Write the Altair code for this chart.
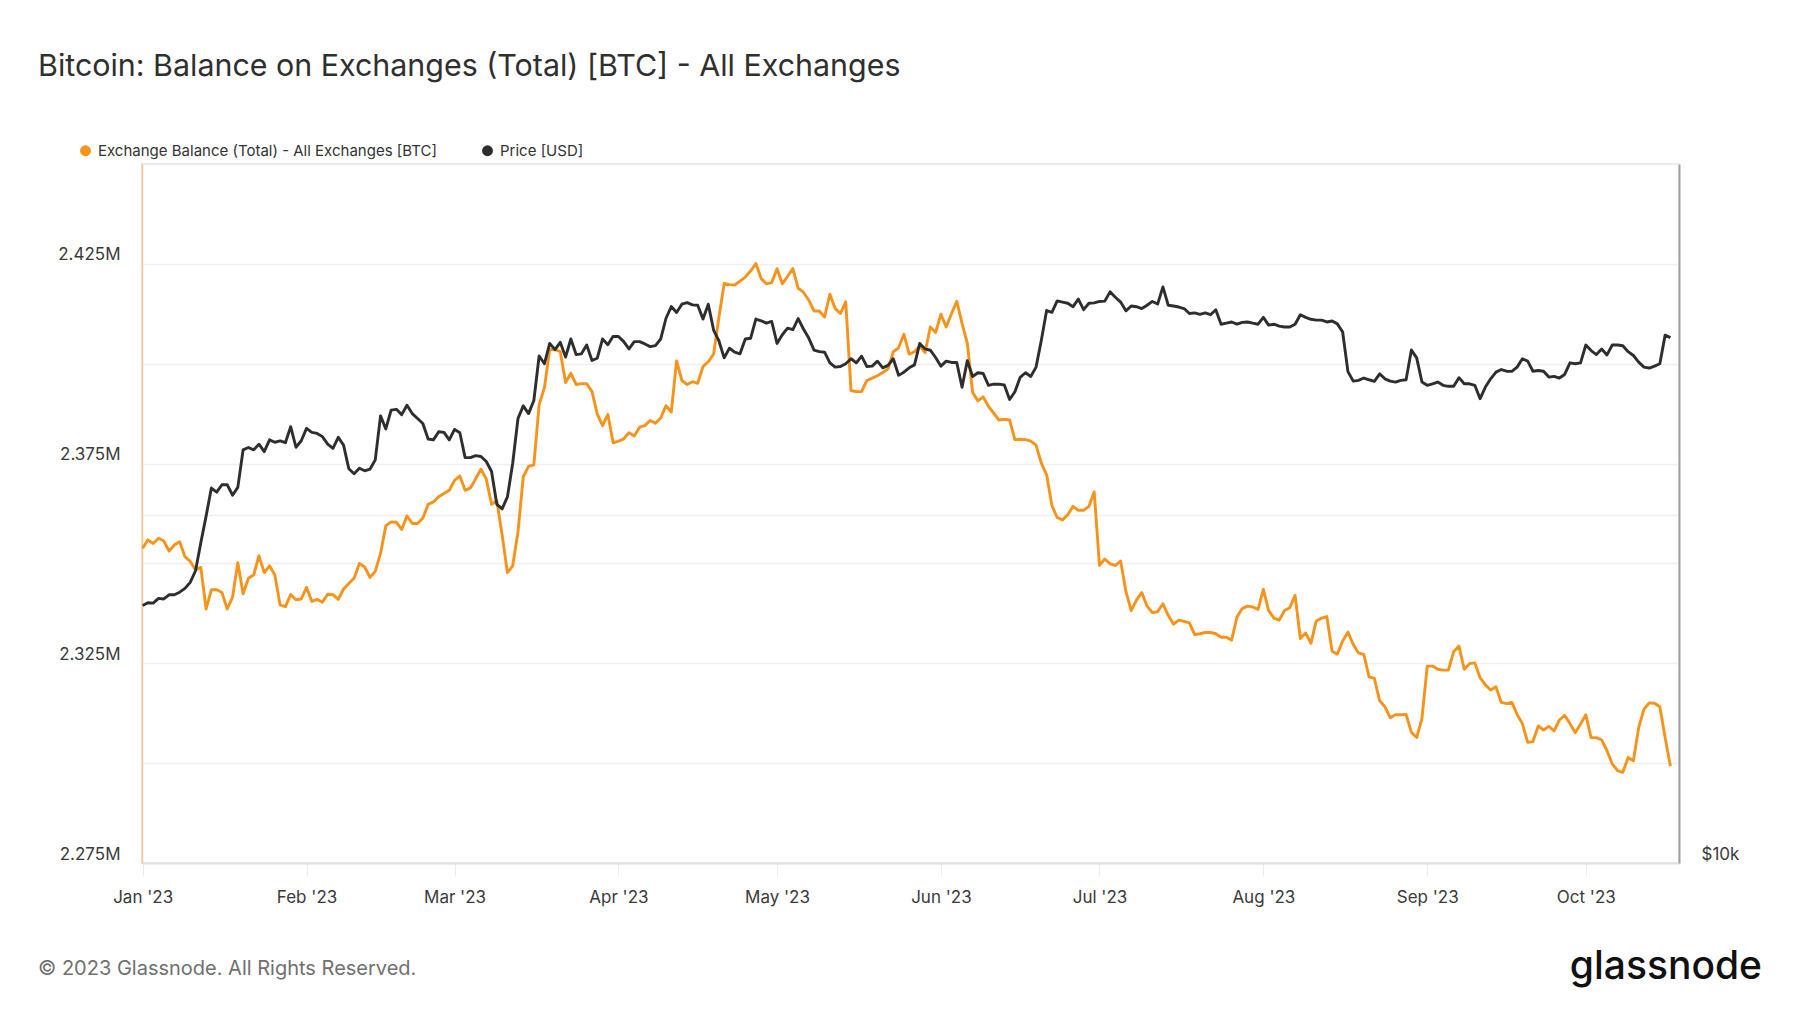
import altair as alt
import pandas as pd

# ---------------- data ----------------
title_text = "Bitcoin: Balance on Exchanges (Total) [BTC] - All Exchanges"
footer_text = "© 2023 Glassnode. All Rights Reserved."
logo_text = "glassnode"
series_names = ["Exchange Balance (Total) - All Exchanges [BTC]", "Price [USD]"]
series_colors = ["#f7931a", "#2e2e2e"]

start_date = "2023-01-01"  # one value per day from here

# Exchange balance, thousand BTC
balance_kbtc = [
    2353.8, 2355.9, 2355.0, 2356.3, 2355.6, 2353.1, 2354.6, 2355.4, 2351.7, 2350.5,
    2348.4, 2349.0, 2338.6, 2343.4, 2343.4, 2342.7, 2338.6, 2341.5, 2350.2, 2342.4,
    2346.3, 2347.1, 2351.9, 2347.7, 2349.4, 2347.1, 2339.6, 2339.2, 2342.2, 2340.9,
    2341.1, 2344.0, 2340.5, 2341.0, 2340.3, 2342.3, 2342.2, 2341.0, 2343.6, 2345.0,
    2346.3, 2350.0, 2349.1, 2346.5, 2348.0, 2352.5, 2359.4, 2360.4, 2360.3, 2358.5,
    2361.9, 2360.0, 2360.0, 2361.3, 2364.8, 2365.4, 2366.7, 2367.5, 2368.3, 2370.8,
    2371.9, 2368.3, 2368.9, 2371.2, 2373.6, 2371.1, 2364.8, 2365.7, 2357.1, 2347.7,
    2349.4, 2357.9, 2371.7, 2374.3, 2374.7, 2389.7, 2394.0, 2403.6, 2403.5, 2403.0,
    2395.3, 2397.6, 2394.8, 2395.0, 2395.0, 2393.0, 2387.4, 2384.5, 2387.3, 2380.2,
    2380.6, 2381.2, 2382.7, 2381.9, 2384.1, 2384.5, 2385.8, 2385.1, 2386.4, 2389.5,
    2387.9, 2400.7, 2395.8, 2394.8, 2395.5, 2395.1, 2399.3, 2400.5, 2402.4, 2411.5,
    2420.1, 2419.8, 2419.7, 2420.7, 2421.7, 2423.2, 2425.1, 2421.3, 2420.0, 2420.3,
    2423.8, 2420.0, 2421.9, 2423.8, 2418.9, 2417.9, 2415.9, 2413.2, 2413.2, 2411.7,
    2417.4, 2413.8, 2412.6, 2415.5, 2393.3, 2393.0, 2393.0, 2395.8, 2396.4, 2397.0,
    2397.8, 2398.7, 2403.0, 2404.0, 2407.4, 2402.4, 2403.0, 2404.5, 2402.8, 2409.2,
    2407.8, 2412.4, 2409.2, 2412.5, 2415.6, 2410.1, 2405.1, 2392.8, 2390.7, 2391.7,
    2389.3, 2387.6, 2385.9, 2386.1, 2385.9, 2381.0, 2381.1, 2381.0, 2380.6, 2379.6,
    2375.1, 2372.2, 2364.5, 2361.5, 2360.9, 2362.2, 2364.3, 2363.3, 2363.3, 2364.3,
    2367.9, 2349.5, 2351.1, 2349.9, 2349.5, 2350.6, 2343.0, 2338.2, 2340.8, 2342.7,
    2339.3, 2337.7, 2337.9, 2339.9, 2337.0, 2334.8, 2335.8, 2335.5, 2335.1, 2332.2,
    2332.4, 2332.7, 2332.7, 2332.4, 2331.5, 2331.5, 2330.8, 2336.6, 2338.7, 2339.3,
    2339.1, 2338.5, 2343.5, 2338.2, 2336.3, 2335.8, 2338.2, 2338.9, 2342.0, 2331.2,
    2332.6, 2330.0, 2335.6, 2336.3, 2336.7, 2328.0, 2327.3, 2330.6, 2332.8, 2329.7,
    2327.6, 2327.2, 2321.6, 2321.2, 2315.6, 2314.1, 2311.4, 2312.1, 2312.1, 2312.2,
    2307.7, 2306.4, 2311.2, 2324.3, 2324.3, 2323.5, 2323.3, 2323.3, 2327.9, 2329.3,
    2323.5, 2324.9, 2325.1, 2321.4, 2319.6, 2318.3, 2319.1, 2315.2, 2314.9, 2315.2,
    2312.2, 2309.9, 2305.2, 2305.4, 2309.3, 2308.3, 2309.2, 2308.1, 2310.8, 2312.0,
    2309.9, 2307.6, 2309.8, 2312.1, 2306.4, 2306.4, 2305.8, 2303.1, 2299.8, 2298.1,
    2297.7, 2301.4, 2300.6, 2308.9, 2313.5, 2315.1, 2315.0, 2314.1, 2306.4, 2299.2,
]

# BTC price, thousand USD
price_kusd = [
    16.71, 16.80, 16.79, 16.95, 16.93, 17.07, 17.07, 17.16, 17.29, 17.50,
    17.91, 18.94, 19.97, 21.12, 20.95, 21.26, 21.26, 20.82, 21.15, 22.79,
    22.90, 22.79, 23.05, 22.71, 23.25, 23.14, 23.20, 23.12, 23.87, 22.91,
    23.21, 23.79, 23.60, 23.55, 23.40, 23.05, 22.86, 23.37, 23.01, 21.95,
    21.73, 21.97, 21.86, 21.93, 22.34, 24.39, 23.76, 24.67, 24.71, 24.45,
    24.91, 24.50, 24.26, 24.02, 23.29, 23.25, 23.63, 23.60, 23.25, 23.74,
    23.58, 22.44, 22.44, 22.53, 22.49, 22.27, 21.83, 20.44, 20.26, 20.75,
    22.19, 24.26, 24.88, 24.50, 25.15, 27.48, 27.06, 28.18, 27.83, 28.24,
    27.42, 28.43, 27.56, 27.60, 28.09, 27.24, 27.36, 28.43, 28.11, 28.58,
    28.57, 28.28, 27.87, 28.28, 28.28, 28.15, 28.00, 28.06, 28.43, 29.63,
    30.33, 29.97, 30.47, 30.57, 30.43, 30.41, 29.58, 30.47, 28.94, 28.33,
    27.38, 27.91, 27.69, 27.60, 28.43, 28.47, 29.58, 29.48, 29.34, 29.44,
    28.18, 28.67, 29.05, 28.96, 29.61, 29.00, 28.48, 27.81, 27.72, 27.69,
    27.11, 26.88, 26.91, 27.06, 27.33, 27.11, 27.47, 26.91, 26.93, 27.20,
    26.84, 26.97, 27.33, 26.44, 26.61, 26.84, 27.00, 28.18, 27.87, 27.80,
    27.40, 26.93, 27.20, 27.13, 27.13, 25.82, 27.23, 26.38, 26.58, 26.54,
    25.92, 25.98, 25.98, 25.94, 25.20, 25.59, 26.34, 26.58, 26.38, 26.88,
    28.36, 30.09, 29.98, 30.67, 30.60, 30.53, 30.32, 30.78, 30.14, 30.53,
    30.55, 30.64, 30.66, 31.23, 30.90, 30.60, 30.07, 30.36, 30.32, 30.21,
    30.41, 30.64, 30.48, 31.54, 30.41, 30.36, 30.30, 30.21, 29.91, 29.95,
    29.86, 29.95, 29.84, 30.14, 29.28, 29.34, 29.41, 29.28, 29.39, 29.41,
    29.34, 29.28, 29.68, 29.23, 29.28, 29.17, 29.12, 29.12, 29.28, 29.84,
    29.68, 29.57, 29.52, 29.52, 29.41, 29.47, 29.30, 28.83, 26.64, 26.14,
    26.18, 26.30, 26.21, 26.13, 26.52, 26.26, 26.14, 26.09, 26.18, 26.21,
    27.81, 27.38, 26.09, 25.92, 26.00, 26.09, 25.92, 25.87, 25.87, 26.32,
    26.00, 26.00, 25.92, 25.24, 25.83, 26.26, 26.61, 26.75, 26.66, 26.65,
    26.88, 27.33, 27.20, 26.66, 26.70, 26.66, 26.35, 26.39, 26.30, 26.49,
    27.11, 27.06, 27.11, 28.09, 27.78, 27.56, 27.87, 27.54, 28.09, 28.09,
    28.05, 27.72, 27.51, 27.15, 26.88, 26.83, 26.93, 27.06, 28.65, 28.51,
]

balance_ticks = [2275000, 2300000, 2325000, 2350000, 2375000, 2400000, 2425000, 2450000]
price_ticks = [10000, 20000]
month_ticks = [1, 2, 3, 4, 5, 6, 7, 8, 9, 10]

# ---------------- tables ----------------
dates = pd.date_range(start_date, periods=len(balance_kbtc), freq="D").strftime("%Y-%m-%d")
df = pd.DataFrame({
    "date": dates,
    "balance": [b * 1000 for b in balance_kbtc],
    "price": [p * 1000 for p in price_kusd],
})
legend_df = pd.DataFrame({"series": series_names})

FONT = "Inter"
W, H = 1537, 699
PAD_L, PAD_T = 142, 164
LINE_W = 2.9

x_scale = alt.Scale(
    type="utc",
    domain=[
        alt.DateTime(year=2022, month=12, date=31, hours=21, utc=True),
        alt.DateTime(year=2023, month=10, date=18, hours=15, utc=True),
    ],
)
x_axis = alt.Axis(
    values=[alt.DateTime(year=2023, month=m, date=1, utc=True) for m in month_ticks],
    labelExpr="utcFormat(datum.value, \"%b '%y\")",
    grid=False,
    domainColor="#e2e2e2",
    domainWidth=2,
    tickColor="#ececec",
    tickSize=13,
    tickWidth=1,
    labelPadding=13,
    labelFontSize=17,
    labelColor="#3a3a3a",
    labelFont=FONT,
    labelOverlap=False,
    labelFlush=False,
    title=None,
)

balance_line = alt.Chart(df).mark_line(
    color=series_colors[0], strokeWidth=LINE_W, strokeJoin="round"
).encode(
    x=alt.X("date:T", scale=x_scale, axis=x_axis),
    y=alt.Y(
        "balance:Q",
        scale=alt.Scale(domain=[2275000, 2450000], nice=False, zero=False),
        axis=alt.Axis(
            values=balance_ticks,
            labelExpr="(round((datum.value - 2275000) / 25000) % 2 == 0) ? format(datum.value / 1000000, '.3f') + 'M' : ''",
            grid=True,
            gridColor="#efefef",
            gridWidth=1.5,
            domainColor="#f9c68c",
            domainWidth=1.5,
            tickSize=0,
            labelPadding=22,
            labelFontSize=17,
            labelColor="#3a3a3a",
            labelFont=FONT,
            labelBaseline="alphabetic",
            labelOffset=-4,
            labelOverlap=False,
            labelFlush=False,
            title=None,
        ),
    ),
)

price_line = alt.Chart(df).mark_line(
    color=series_colors[1], strokeWidth=LINE_W, strokeJoin="round"
).encode(
    x=alt.X("date:T", scale=x_scale, axis=x_axis),
    y=alt.Y(
        "price:Q",
        scale=alt.Scale(type="log", domain=[10000, 40300], nice=False),
        axis=alt.Axis(
            orient="right",
            values=price_ticks,
            labelExpr="datum.value == 10000 ? '$10k' : ''",
            grid=True,
            gridColor="#efefef",
            gridWidth=1.5,
            domainColor="#a0a0a0",
            domainWidth=2,
            tickSize=0,
            labelPadding=22,
            labelFontSize=17,
            labelColor="#3a3a3a",
            labelFont=FONT,
            labelBaseline="alphabetic",
            labelOffset=-4,
            labelOverlap=False,
            labelFlush=False,
            title=None,
        ),
    ),
)

legend_layer = alt.Chart(legend_df).mark_circle(size=120, opacity=1).encode(
    x=alt.value(-3000),
    y=alt.value(-3000),
    color=alt.Color(
        "series:N",
        scale=alt.Scale(domain=series_names, range=series_colors),
        legend=alt.Legend(
            orient="none",
            legendX=-64,
            legendY=-21,
            direction="horizontal",
            title=None,
            symbolType="circle",
            symbolSize=120,
            symbolStrokeWidth=0,
            labelFontSize=15,
            labelFont=FONT,
            labelColor="#333333",
            labelOffset=5,
            labelLimit=0,
            columnPadding=43,
            padding=0,
        ),
    ),
)

title_layer = alt.Chart(pd.DataFrame({"t": [title_text]})).mark_text(
    align="left", baseline="alphabetic", fontSize=30.4, font=FONT, color="#2f2f2f"
).encode(text="t:N", x=alt.value(38 - PAD_L), y=alt.value(76 - PAD_T))

footer_layer = alt.Chart(pd.DataFrame({"t": [footer_text]})).mark_text(
    align="left", baseline="alphabetic", fontSize=20, font=FONT, color="#707070"
).encode(text="t:N", x=alt.value(38 - PAD_L), y=alt.value(975 - PAD_T))

logo_layer = alt.Chart(pd.DataFrame({"t": [logo_text]})).mark_text(
    align="right", baseline="alphabetic", fontSize=39, font=FONT, fontWeight=500, color="#111111"
).encode(text="t:N", x=alt.value(1762 - PAD_L), y=alt.value(979 - PAD_T))

chart = (
    alt.layer(balance_line, price_line, legend_layer, title_layer, footer_layer, logo_layer)
    .resolve_scale(y="independent")
    .properties(
        width=W,
        height=H,
        autosize=alt.AutoSizeParams(type="none"),
        padding={"left": PAD_L, "top": PAD_T, "right": 1800 - PAD_L - W, "bottom": 1013 - PAD_T - H},
        background="#ffffff",
    )
    .configure_view(stroke="#e6e6e6", strokeWidth=2)
)

chart.save("out.html", embed_options={"renderer": "svg", "actions": False})
